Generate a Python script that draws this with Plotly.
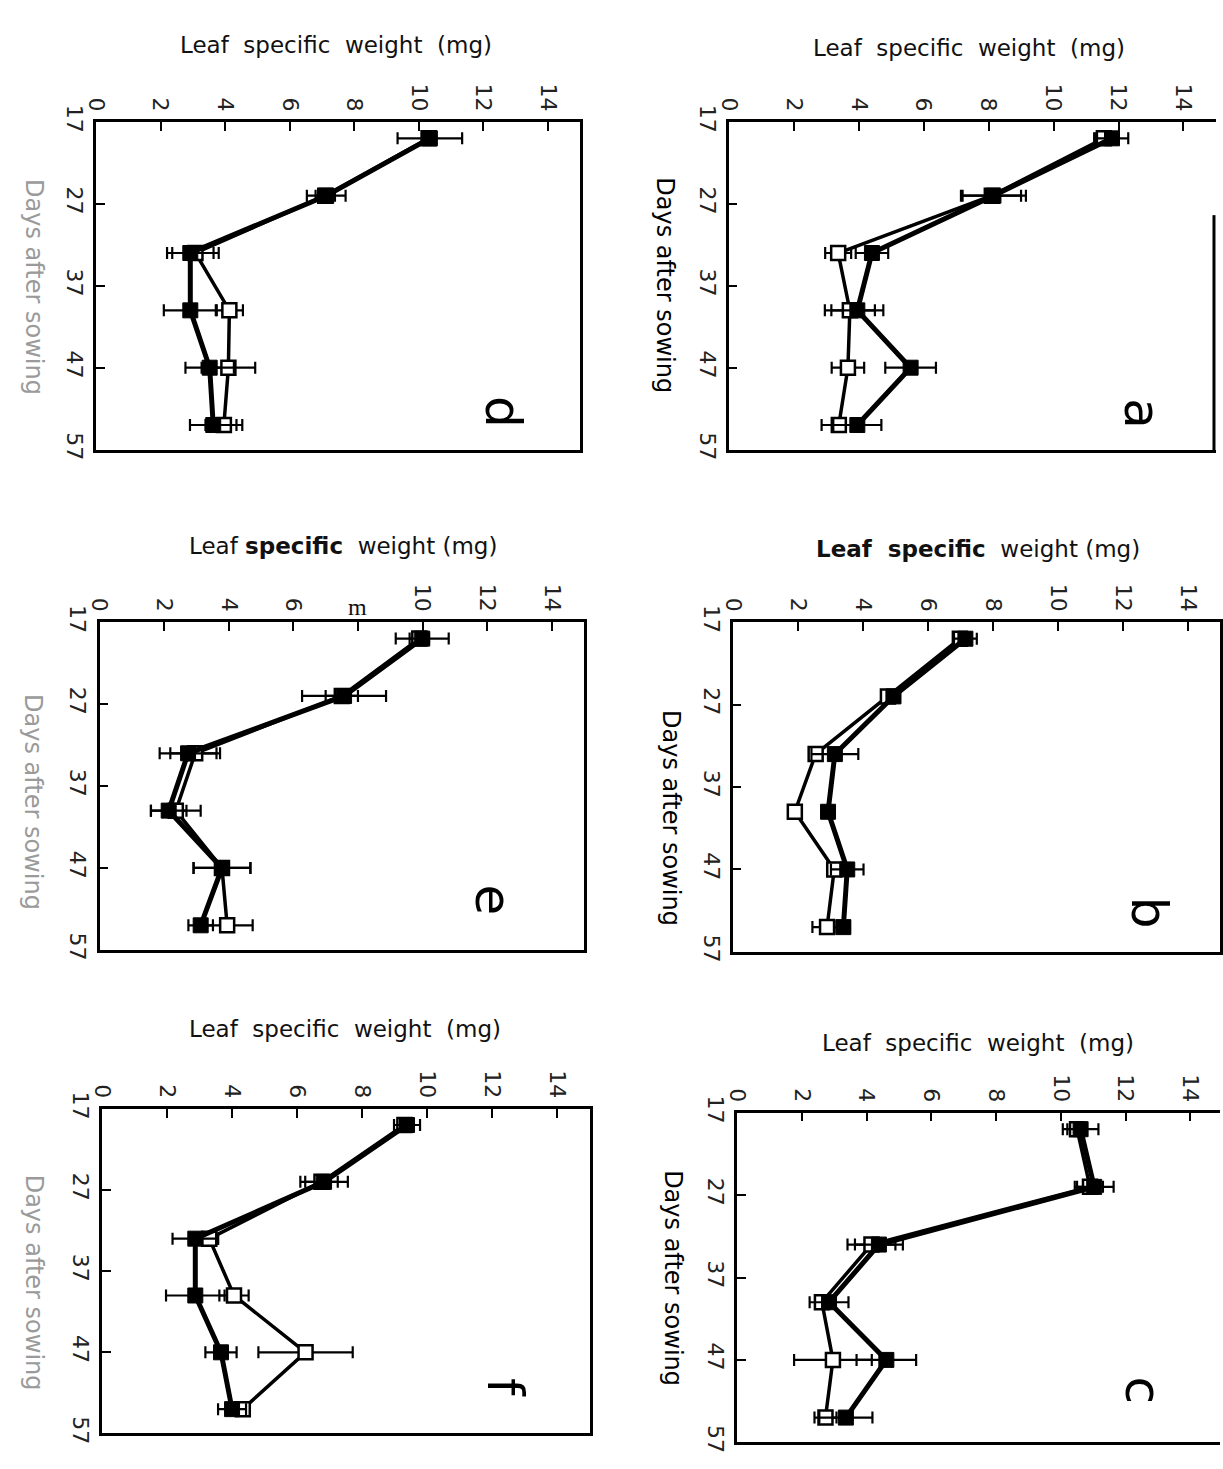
import plotly.graph_objects as go

W, H = 1223, 1469

# ---------------- data ----------------
days = [19, 26, 33, 40, 47, 54]
day_ticks = [17, 27, 37, 47, 57]
weight_ticks = [0, 2, 4, 6, 8, 10, 12, 14]

a_filled = [11.8, 8.15, 4.41, 3.96, 5.6, 3.96]
a_filled_err = [0.5, 1.0, 0.5, 0.8, 0.78, 0.74]
a_open = [11.55, 8.1, 3.37, 3.73, 3.67, 3.39]
a_open_err = [0.3, 0.9, 0.4, 0.77, 0.5, 0.53]

b_filled = [7.15, 4.94, 3.14, 2.93, 3.52, 3.4]
b_filled_err = [0.35, 0.2, 0.72, 0.15, 0.5, 0.2]
b_open = [6.98, 4.77, 2.55, 1.91, 3.12, 2.9]
b_open_err = [0.2, 0.15, 0.15, 0.1, 0.2, 0.45]

c_filled = [10.61, 11.03, 4.38, 2.84, 4.61, 3.36]
c_filled_err = [0.55, 0.6, 0.74, 0.6, 0.92, 0.82]
c_open = [10.5, 10.9, 4.15, 2.62, 2.96, 2.73]
c_open_err = [0.3, 0.4, 0.74, 0.2, 1.2, 0.34]

d_filled = [10.34, 7.13, 2.92, 2.92, 3.52, 3.63]
d_filled_err = [1.0, 0.6, 0.72, 0.82, 0.75, 0.72]
d_open = [10.3, 7.1, 3.08, 4.13, 4.1, 3.96]
d_open_err = [0.2, 0.3, 0.72, 0.42, 0.83, 0.57]

e_filled = [9.99, 7.57, 2.74, 2.14, 3.79, 3.13]
e_filled_err = [0.82, 1.3, 0.88, 0.55, 0.88, 0.38]
e_open = [9.9, 7.5, 2.96, 2.36, 3.79, 3.95]
e_open_err = [0.3, 0.5, 0.77, 0.77, 0.88, 0.79]

f_filled = [9.38, 6.83, 2.87, 2.87, 3.66, 4.0]
f_filled_err = [0.4, 0.73, 0.7, 0.9, 0.48, 0.43]
f_open = [9.3, 6.75, 3.3, 4.06, 6.26, 4.33]
f_open_err = [0.2, 0.5, 0.27, 0.45, 1.45, 0.2]

NB = "\u00a0"
title_plain = f"Leaf{NB*2}specific{NB*2}weight{NB*2}(mg)"
title_b = f"<b>Leaf{NB*2}specific</b>{NB*2}weight{NB}(mg)"
title_e = f"Leaf{NB}<b>specific</b>{NB*2}weight{NB}(mg)"
days_title = f"Days{NB}after{NB}sowing"

# right_border: "full", "none" or (top_px, bottom_px) for a partial line
panels = [
    dict(L="a", f=a_filled, fe=a_filled_err, o=a_open, oe=a_open_err,
         x0=725, unit=32.86, top=107, bottom=441, letter=(1143, 405),
         title=(968, 32, title_plain), dt=(661, 274, "#000"),
         right_border=(202, 442)),
    dict(L="b", f=b_filled, fe=b_filled_err, o=b_open, oe=b_open_err,
         x0=729, unit=32.93, top=617, bottom=953, letter=(1151, 913),
         title=(977, 542, title_b), dt=(666, 817, "#000"),
         right_border="full"),
    dict(L="c", f=c_filled, fe=c_filled_err, o=c_open, oe=c_open_err,
         x0=733.5, unit=32.75, top=1117, bottom=1453, letter=(1144, 1400),
         title=(977, 1046, title_plain), dt=(668, 1286, "#000"),
         right_border="none"),
    dict(L="d", f=d_filled, fe=d_filled_err, o=d_open, oe=d_open_err,
         x0=85, unit=32.66, top=107, bottom=441, letter=(496, 403),
         title=(328, 29, title_plain), dt=(22, 275, "#9a9a9a"),
         right_border="full"),
    dict(L="e", f=e_filled, fe=e_filled_err, o=e_open, oe=e_open_err,
         x0=88.6, unit=32.67, top=617, bottom=951, letter=(487, 900),
         title=(335, 539, title_e), dt=(22, 800, "#9a9a9a"),
         right_border="full"),
    dict(L="f", f=f_filled, fe=f_filled_err, o=f_open, oe=f_open_err,
         x0=91, unit=32.9, top=1113, bottom=1444, letter=(498, 1397),
         title=(337, 1032, title_plain), dt=(22, 1290, "#9a9a9a"),
         right_border="full"),
]

FONT = "DejaVu Sans"
fig = go.Figure()
layout = dict(
    width=W, height=H, margin=dict(l=0, r=0, t=0, b=0),
    paper_bgcolor="white", plot_bgcolor="white", showlegend=False,
    font=dict(family=FONT, color="black"),
)
annotations = []
shapes = []

for i, p in enumerate(panels, start=1):
    xs = "" if i == 1 else str(i)
    right_px = min(p["x0"] + 15 * p["unit"], W - 1)
    xmax = (right_px - p["x0"]) / p["unit"]
    xdom = [p["x0"] / W, right_px / W]
    ydom = [1 - p["bottom"] / H, 1 - p["top"] / H]

    ticktext = [str(v) for v in weight_ticks]
    if p["L"] == "e":
        ticktext[4] = ""

    layout["xaxis" + xs] = dict(
        domain=xdom, range=[0, xmax], side="top", anchor="y" + xs,
        tickmode="array", tickvals=weight_ticks, ticktext=ticktext,
        ticks="inside", ticklen=9, tickwidth=2, tickcolor="black",
        showline=True, linewidth=2.5, linecolor="black", mirror=True,
        showgrid=False, zeroline=False, tickangle=90,
        tickfont=dict(family=FONT, size=22, color="#222"),
    )
    layout["yaxis" + xs] = dict(
        domain=ydom, range=[57, 17], anchor="x" + xs,
        tickmode="array", tickvals=day_ticks,
        ticks="inside", ticklen=9, tickwidth=2, tickcolor="black",
        showline=True, linewidth=2.5, linecolor="black",
        mirror=(p["right_border"] == "full"),
        showgrid=False, zeroline=False, tickangle=90,
        tickfont=dict(family=FONT, size=22, color="#222"),
    )
    rb = p["right_border"]
    if isinstance(rb, tuple):
        shapes.append(dict(
            type="line", xref="paper", yref="paper",
            x0=(right_px - 2) / W, x1=(right_px - 2) / W,
            y0=1 - rb[0] / H, y1=1 - rb[1] / H,
            line=dict(color="black", width=3),
        ))

    # open squares series
    fig.add_trace(go.Scatter(
        x=p["o"], y=days, mode="lines+markers",
        xaxis="x" + xs, yaxis="y" + xs, cliponaxis=False,
        line=dict(color="black", width=3.5),
        marker=dict(symbol="square", size=14, color="white",
                    line=dict(color="black", width=2.5)),
        error_x=dict(type="data", array=p["oe"], visible=True,
                     color="black", thickness=2.2, width=6),
    ))
    # filled squares series
    fig.add_trace(go.Scatter(
        x=p["f"], y=days, mode="lines+markers",
        xaxis="x" + xs, yaxis="y" + xs, cliponaxis=False,
        line=dict(color="black", width=5),
        marker=dict(symbol="square", size=15, color="black",
                    line=dict(color="black", width=1)),
        error_x=dict(type="data", array=p["fe"], visible=True,
                     color="black", thickness=2.2, width=6),
    ))

    tx, ty, ttext = p["title"]
    annotations.append(dict(
        x=tx / W, y=1 - ty / H, xref="paper", yref="paper",
        text=ttext, showarrow=False, xanchor="center", yanchor="middle",
        font=dict(family=FONT, size=23, color="#111"),
    ))
    dx, dy, dcol = p["dt"]
    annotations.append(dict(
        x=dx / W, y=1 - dy / H, xref="paper", yref="paper",
        text=days_title, showarrow=False, textangle=90,
        xanchor="center", yanchor="middle",
        font=dict(family=FONT, size=24, color=dcol),
    ))
    lx, ly = p["letter"]
    annotations.append(dict(
        x=lx / W, y=1 - ly / H, xref="paper", yref="paper",
        text=p["L"], showarrow=False, textangle=90,
        xanchor="center", yanchor="middle",
        font=dict(family=FONT, size=50, color="black"),
    ))
    if p["L"] == "e":
        annotations.append(dict(
            x=8, y=1 - (p["top"] - 16) / H, xref="x" + xs, yref="paper",
            text="m", showarrow=False, xanchor="center", yanchor="middle",
            font=dict(family="Liberation Serif", size=24, color="#111"),
        ))

layout["annotations"] = annotations
layout["shapes"] = shapes
fig.update_layout(**layout)
fig.write_html(
    "out.html",
    post_script="document.body.style.margin='0px';document.body.style.overflow='hidden';",
)
